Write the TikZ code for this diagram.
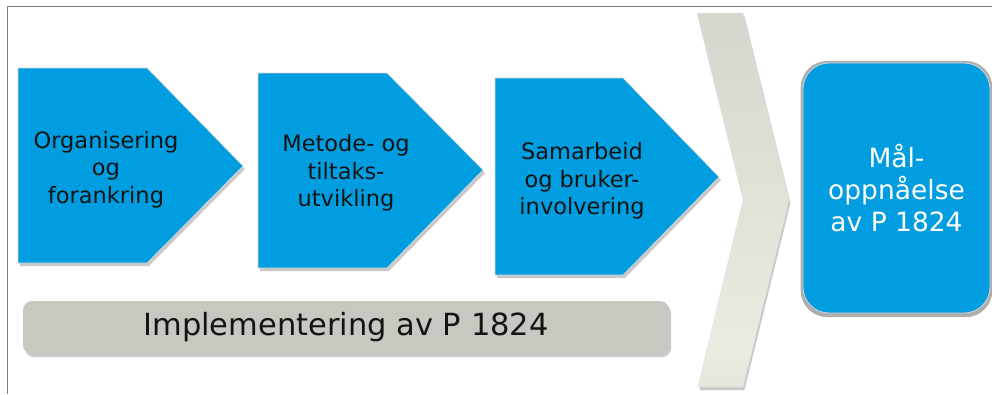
\documentclass[tikz,border=0pt]{standalone}
\usepackage{fontspec}
\setmainfont{DejaVu Sans}
\usetikzlibrary{shadows}
\definecolor{stepblue}{RGB}{0,158,224}
\definecolor{bargray}{RGB}{200,199,192}
\definecolor{framegray}{RGB}{128,125,110}
\definecolor{cvtop}{RGB}{204,203,196}
\definecolor{cvlight}{RGB}{236,235,225}
\definecolor{cvbot}{RGB}{210,209,200}
\pgfdeclareverticalshading{chevshade}{100bp}{color(0bp)=(cvbot); color(8bp)=(cvbot); color(30bp)=(cvlight); color(70bp)=(cvtop!60!cvlight); color(100bp)=(cvtop)}
\begin{document}
\begin{tikzpicture}[x=1pt,y=-1pt,
  stepshape/.style={fill=stepblue, draw=black!15, line width=0.6pt,
    drop shadow={shadow xshift=2pt, shadow yshift=-3pt, opacity=0.3, fill=black!70}},
  steptext/.style={align=center, font=\fontsize{22.5}{27.5}\selectfont, text=black!92},
  chevstyle/.style={shading=chevshade, draw=black!12, line width=0.5pt,
    drop shadow={shadow xshift=1.5pt, shadow yshift=-3pt, opacity=0.3, fill=black!70}},
  goalbox/.style={fill=stepblue, draw=black!18, line width=0.8pt, rounded corners=26pt,
    minimum width=187pt, minimum height=250pt, align=center, text=white,
    font=\fontsize{26.5}{32}\selectfont,
    drop shadow={shadow xshift=0pt, shadow yshift=-1pt, shadow scale=1.025, opacity=0.45, fill=black!70}},
  barbox/.style={fill=bargray, rounded corners=9pt, minimum width=646pt, minimum height=53pt,
    font=\fontsize{30.5}{34}\selectfont, text=black!92,
    drop shadow={shadow xshift=2pt, shadow yshift=-3pt, opacity=0.3, fill=black!70}}
]
\useasboundingbox (0,0) rectangle (992,394);
\draw[framegray, line width=1.6pt] (7.5,394) -- (7.5,6.5) -- (992,6.5);

% step shapes
\path[stepshape] (18,68) -- (147,68) -- (243,166) -- (147,263) -- (18,263) -- cycle;
\path[stepshape] (258,73) -- (387,73) -- (483,170) -- (387,268) -- (258,268) -- cycle;
\path[stepshape] (495,78) -- (623,78) -- (719,177) -- (623,275) -- (495,275) -- cycle;

\node[steptext] (s1) at (106,169.5) {Organisering\\og\\forankring};
\node[steptext] (s2) at (346,173) {Metode- og\\tiltaks-\\utvikling};
\node[steptext] (s3) at (582,181) {Samarbeid\\og bruker-\\involvering};

% chevron
\path[chevstyle] (697,13) -- (743,13) -- (789,200) -- (743,387) -- (698,387) -- (743,200) -- cycle;

% goal
\node[goalbox] (goal) at (896.5,188) {Mål-\\oppnåelse\\av P 1824};

% bar
\node[barbox] (impl) at (346,327.5) {Implementering av P 1824};
\end{tikzpicture}
\end{document}
